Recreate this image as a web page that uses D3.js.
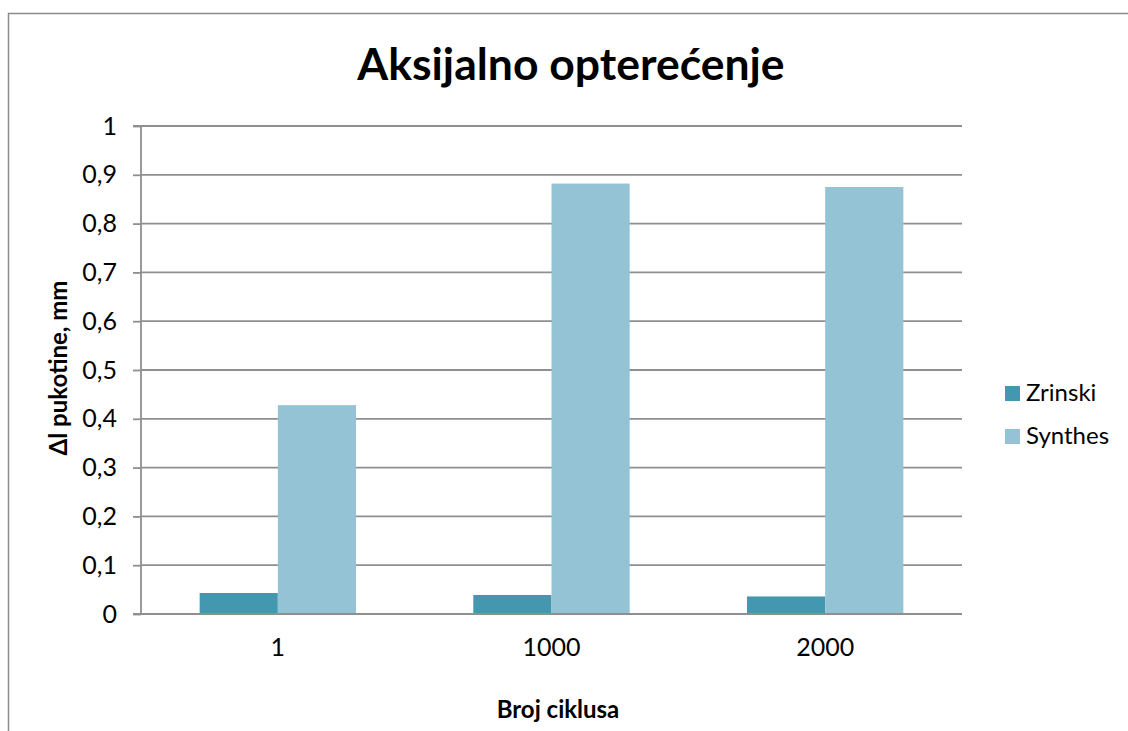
<!DOCTYPE html>
<html><head><meta charset="utf-8">
<script src="https://cdn.jsdelivr.net/npm/d3@7"></script>
<style>html,body{margin:0;padding:0;background:#fff;overflow:hidden}</style>
</head><body><svg id="c" width="1128" height="731"></svg>
<script>
const categories = ["1", "1000", "2000"];
const seriesNames = ["Zrinski", "Synthes"];
const zrinski = [0.043, 0.039, 0.036];
const synthes = [0.428, 0.882, 0.875];
const yTicks = [0, 0.1, 0.2, 0.3, 0.4, 0.5, 0.6, 0.7, 0.8, 0.9, 1];
const colors = ["#4398B0", "#93C3D4"];
const title = "Aksijalno opterećenje";
const xTitle = "Broj ciklusa";
const yTitle = "Δl pukotine, mm";

const svg = d3.select("#c");
const font = "Lato, 'Open Sans', sans-serif";
svg.append("rect").attr("x",8.5).attr("y",13.5).attr("width",1300).attr("height",900)
  .attr("fill","#fff").attr("stroke","#8c8c8c").attr("stroke-width",1.5);

const L=141, R=962, T=126, B=614;
const x = d3.scaleBand().domain(categories).range([L,R]).paddingInner(0.4286).paddingOuter(0.2143);
const xs = d3.scaleBand().domain(seriesNames).range([0,x.bandwidth()]);
const y = d3.scaleLinear().domain([0,1]).range([B,T]);

// gridlines
svg.append("g").selectAll("line").data(yTicks.slice(1)).join("line")
  .attr("x1",L).attr("x2",R).attr("y1",d=>y(d)).attr("y2",d=>y(d))
  .attr("stroke","#8f8f8f").attr("stroke-width",1.8);

// bars
const data = categories.map((c,i)=>({c, vals:[zrinski[i], synthes[i]]}));
const g = svg.append("g");
data.forEach(d=>{
  g.selectAll(null).data(d.vals.map((v,j)=>({v, s:seriesNames[j], j}))).join("rect")
    .attr("x",e=>x(d.c)+xs(e.s)).attr("width",xs.bandwidth())
    .attr("y",e=>y(e.v)).attr("height",e=>B-y(e.v))
    .attr("fill",e=>colors[e.j]);
});

// y axis
const ya = d3.axisLeft(y).tickValues(yTicks).tickSize(8).tickPadding(16)
  .tickFormat(d=>d===0?"0":d===1?"1":d3.format(".1f")(d).replace(".",","));
const yg = svg.append("g").attr("transform",`translate(${L},0)`).call(ya);
yg.select(".domain").attr("stroke","#8f8f8f").attr("stroke-width",1.8).attr("d",`M-8,${T}H0V${B}`);
yg.selectAll(".tick line").attr("stroke","#8f8f8f").attr("stroke-width",1.8);
yg.selectAll(".tick text").attr("font-family",font).attr("font-size",25).attr("fill","#000");

// x axis
const xa = d3.axisBottom(x).tickSize(0).tickPadding(24);
const xg = svg.append("g").attr("transform",`translate(0,${B})`).call(xa);
xg.select(".domain").attr("stroke","#8f8f8f").attr("stroke-width",1.8).attr("d",`M${L-8},0H${R}`);
xg.selectAll(".tick text").attr("font-family",font).attr("font-size",25).attr("fill","#000");

// titles
svg.append("text").attr("x",571).attr("y",80).attr("text-anchor","middle")
  .attr("font-family",font).attr("font-weight","bold").attr("font-size",44.5).text(title);
svg.append("text").attr("x",558).attr("y",718).attr("text-anchor","middle")
  .attr("font-family",font).attr("font-weight","bold").attr("font-size",24).text(xTitle);
svg.append("text").attr("transform","translate(67,368) rotate(-90)").attr("text-anchor","middle")
  .attr("font-family",font).attr("font-weight","bold").attr("font-size",24).text(yTitle);

// legend
const lg = svg.append("g");
seriesNames.forEach((s,i)=>{
  const yy = 386 + i*43;
  lg.append("rect").attr("x",1005).attr("y",yy).attr("width",15).attr("height",15).attr("fill",colors[i]);
  lg.append("text").attr("x",1026).attr("y",yy+15).attr("font-family",font).attr("font-size",24).text(s);
});
</script></body></html>
